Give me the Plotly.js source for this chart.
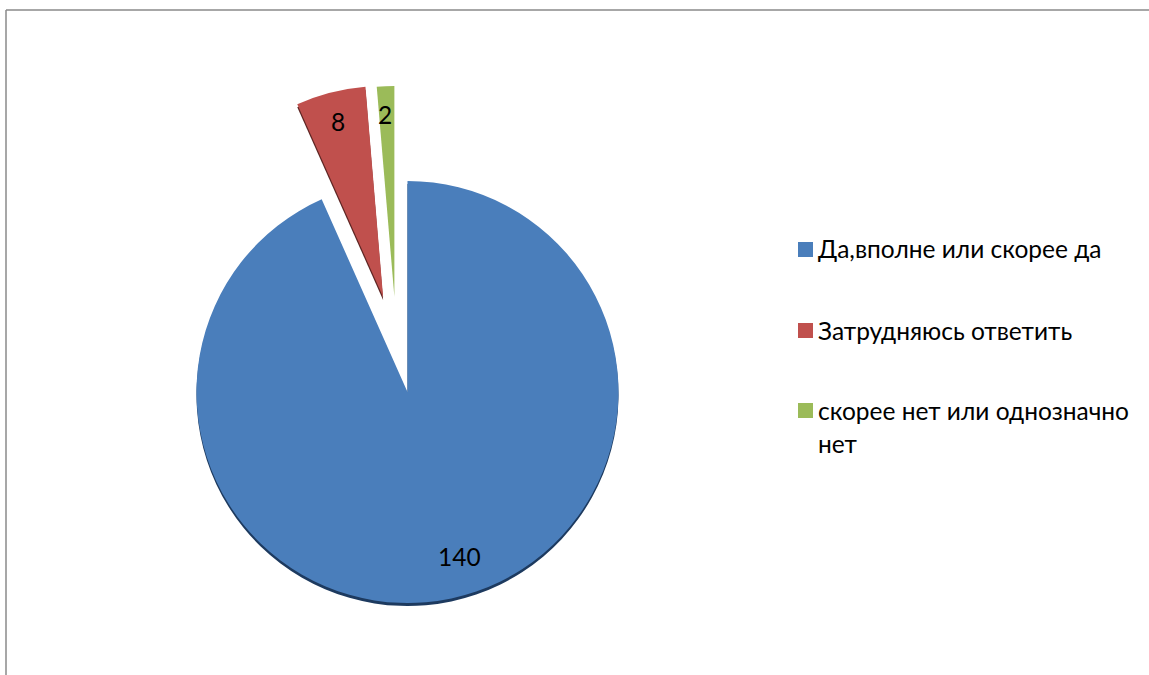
<!DOCTYPE html>
<html>
<head>
<meta charset="utf-8">
<script src="https://cdn.plot.ly/plotly-3.0.1.min.js"></script>
<style>html,body{margin:0;padding:0;background:#fff;overflow:hidden;width:1149px;height:675px}#c{width:1149px;height:784px}</style>
</head>
<body>
<div id="c"></div>
<script>
const categories = ["Да,вполне или скорее да", "Затрудняюсь ответить", "скорее нет или однозначно нет"];
const seriesValues = [140, 8, 2];
const sliceColors = ["#4a7ebb", "#c0504d", "#9bbb59"];
const edgeColors = ["#1d3a5f", "#5e2523", "rgba(0,0,0,0)"];
const explode = [0, 0.465, 0.465];

const W = 1149, H = 784;
const FONT = "Lato, 'Noto Sans', sans-serif";
const CLEAR = "rgba(0,0,0,0)";
const px = x => x / W, py = y => 1 - y / H;
const R = 211 * 1.465, CX = 407.5, CY = 392;
const dom = (dx, dy) => ({
  x: [px(CX - R + dx), px(CX + R + dx)],
  y: [py(CY + R + dy), py(CY - R + dy)]
});
const pieBase = {
  type: "pie", values: seriesValues, labels: categories, sort: false,
  direction: "clockwise", rotation: 0, pull: explode, textinfo: "none",
  showlegend: false
};
const traces = [
  Object.assign({}, pieBase, {domain: dom(0, 3), marker: {colors: edgeColors, line: {width: 0}}, hoverinfo: "skip"}),
  Object.assign({}, pieBase, {domain: dom(0, 0), marker: {colors: [sliceColors[0], sliceColors[1], CLEAR], line: {width: 0}}, hoverinfo: "label+value"}),
  Object.assign({}, pieBase, {domain: dom(-9, 3), marker: {colors: [CLEAR, CLEAR, sliceColors[2]], line: {width: 0}}, hoverinfo: "label+value"})
];

const text = (t, x, y, anchor) => ({
  text: t, x: px(x), y: py(y), xref: "paper", yref: "paper",
  xanchor: anchor, yanchor: "middle", showarrow: false,
  font: {family: FONT, size: 24.5, color: "#000"}
});
const rect = (x0, y0, x1, y1, color) => ({
  type: "rect", xref: "paper", yref: "paper",
  x0: px(x0), x1: px(x1), y0: py(y1), y1: py(y0),
  fillcolor: color, line: {width: 0}
});
const line = (x0, y0, x1, y1) => ({
  type: "line", xref: "paper", yref: "paper",
  x0: px(x0), x1: px(x1), y0: py(y0), y1: py(y1),
  line: {color: "#8a8a8a", width: 1.5}
});

const annotations = [
  text(String(seriesValues[0]), 459, 556, "center"),
  text(String(seriesValues[1]), 338, 121, "center"),
  text(String(seriesValues[2]), 385, 115, "center"),
  text(categories[0], 816, 249, "left"),
  text(categories[1], 816, 330, "left"),
  text("скорее нет или однозначно", 816, 410, "left"),
  text("нет", 816, 443, "left")
];
const shapes = [
  line(6, 10, 1149, 10), line(6, 10, 6, 675),
  rect(798, 242, 813, 257, sliceColors[0]),
  rect(798, 323, 813, 338, sliceColors[1]),
  rect(798, 403, 813, 418, sliceColors[2])
];

Plotly.newPlot("c", traces, {
  width: W, height: H, margin: {l: 0, r: 0, t: 0, b: 0},
  paper_bgcolor: "#fff", showlegend: false, annotations, shapes
}, {displayModeBar: false});
</script>
</body>
</html>
